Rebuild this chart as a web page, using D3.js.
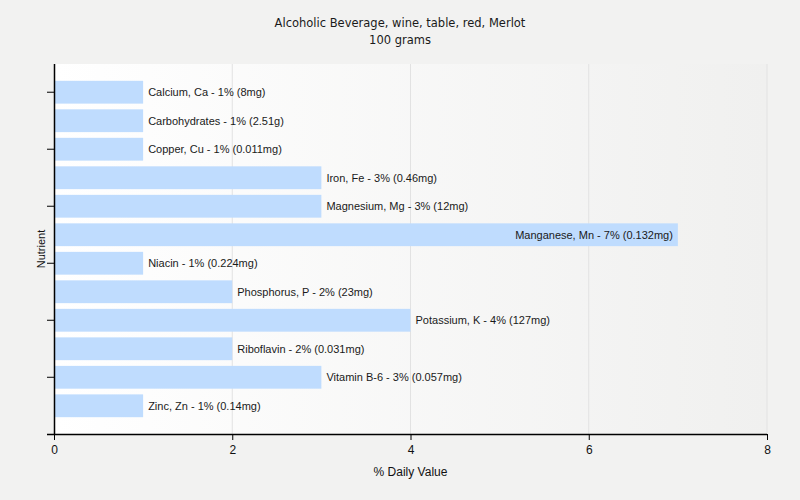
<!DOCTYPE html>
<html><head><meta charset="utf-8">
<script src="https://cdn.jsdelivr.net/npm/d3@7"></script>
<style>body{margin:0;background:#f2f2f1;} svg{display:block;}</style>
</head><body>
<script>
const categories = ["Calcium, Ca","Carbohydrates","Copper, Cu","Iron, Fe","Magnesium, Mg","Manganese, Mn","Niacin","Phosphorus, P","Potassium, K","Riboflavin","Vitamin B-6","Zinc, Zn"];
const values = [1,1,1,3,3,7,1,2,4,2,3,1];
const amounts = ["8mg","2.51g","0.011mg","0.46mg","12mg","0.132mg","0.224mg","23mg","127mg","0.031mg","0.057mg","0.14mg"];
const xTicks = [0,2,4,6,8];
const title = "Alcoholic Beverage, wine, table, red, Merlot";
const subtitle = "100 grams";

const W=800,H=500, L=54, R=767, T=64, B=434;
const svg=d3.select("body").append("svg").attr("width",W).attr("height",H);
svg.append("rect").attr("width",W).attr("height",H).attr("fill","#f2f2f1");
const defs=svg.append("defs");
const g=defs.append("linearGradient").attr("id","bg").attr("x1","0").attr("x2","1").attr("y1","0").attr("y2","0");
g.append("stop").attr("offset","0").attr("stop-color","#ffffff");
g.append("stop").attr("offset","1").attr("stop-color","#f0f0ef");
svg.append("rect").attr("x",L).attr("y",T).attr("width",R-L).attr("height",B-T).attr("fill","url(#bg)");

const x=d3.scaleLinear().domain([0,8]).range([L,R]);
const y=d3.scaleBand().domain(categories).range([T,B]).paddingInner(0.2).paddingOuter(0.59);

svg.append("g").selectAll("line").data(xTicks.filter(d=>d>0)).join("line")
  .attr("x1",d=>x(d)).attr("x2",d=>x(d)).attr("y1",T).attr("y2",B)
  .attr("stroke","#e2e2e2").attr("stroke-width",1);

const font="'Liberation Sans', Arial, sans-serif";
svg.append("g").selectAll("rect").data(categories).join("rect")
  .attr("x",x(0)).attr("y",d=>y(d)).attr("width",(d,i)=>x(values[i])-x(0)).attr("height",y.bandwidth())
  .attr("fill","#bfdcfe");

svg.append("g").selectAll("text").data(categories).join("text")
  .each(function(d,i){
    const label=`${d} - ${values[i]}% (${amounts[i]})`;
    const inside = x(values[i]) + 5 + label.length*5.6 > R;
    d3.select(this).text(label)
      .attr("x", inside ? x(values[i])-5 : x(values[i])+5)
      .attr("text-anchor", inside ? "end":"start");
  })
  .attr("y",d=>y(d)+y.bandwidth()/2).attr("dy","0.35em")
  .attr("font-family",font).attr("font-size",11).attr("fill","#1a1a1a");

// axes
const xa=svg.append("g").attr("transform",`translate(0,${B})`)
  .call(d3.axisBottom(x).tickValues(xTicks).tickFormat(d3.format("d")).tickSize(6).tickSizeOuter(0));
xa.select(".domain").remove();
xa.append("line").attr("x1",L-7).attr("x2",R).attr("y1",0.5).attr("y2",0.5).attr("stroke","#000").attr("stroke-width",1.5);
xa.selectAll("text").attr("font-family",font).attr("font-size",12).attr("fill","#111").attr("dy","0.9em");
xa.selectAll(".tick line").attr("stroke","#000");

const ya=svg.append("g").attr("transform",`translate(${L},0)`)
  .call(d3.axisLeft(y).tickValues(categories.filter((d,i)=>i%2===0)).tickSize(7).tickFormat(""));
ya.select(".domain").remove();
ya.append("line").attr("x1",0.5).attr("x2",0.5).attr("y1",T).attr("y2",B).attr("stroke","#000").attr("stroke-width",1.5);
ya.selectAll(".tick line").attr("stroke","#000");

svg.append("text").attr("x",(L+R)/2).attr("y",476).attr("text-anchor","middle")
  .attr("font-family",font).attr("font-size",12).attr("fill","#111").text("% Daily Value");
svg.append("text").attr("transform",`translate(45,${(T+B)/2}) rotate(-90)`).attr("text-anchor","middle")
  .attr("font-family",font).attr("font-size",11).attr("fill","#111").text("Nutrient");

svg.append("text").attr("x",400).attr("y",27).attr("text-anchor","middle")
  .attr("font-family","'DejaVu Sans', sans-serif").attr("font-size",11.5).attr("fill","#1a1a1a").text(title);
svg.append("text").attr("x",400).attr("y",44).attr("text-anchor","middle")
  .attr("font-family","'DejaVu Sans', sans-serif").attr("font-size",11.5).attr("fill","#1a1a1a").text(subtitle);
</script>
</body></html>
